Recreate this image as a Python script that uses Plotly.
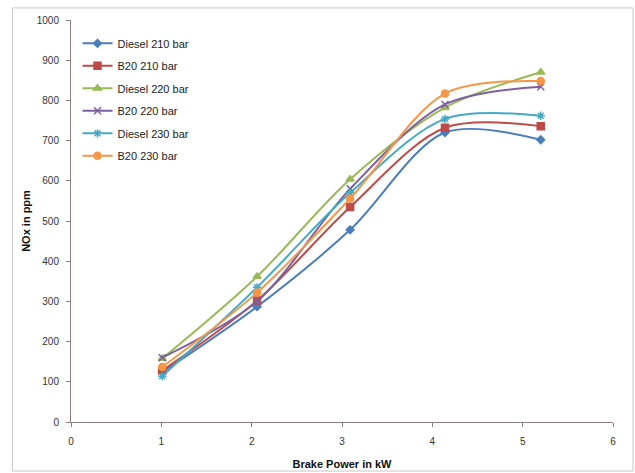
import plotly.graph_objects as go

x_power = [1.01, 2.06, 3.09, 4.14, 5.20]
series_names = ["Diesel 210 bar", "B20 210 bar", "Diesel 220 bar", "B20 220 bar", "Diesel 230 bar", "B20 230 bar"]
diesel_210 = [124, 287, 478, 720, 702]
b20_210 = [128, 302, 535, 732, 736]
diesel_220 = [158, 362, 604, 782, 870]
b20_220 = [160, 300, 580, 790, 834]
diesel_230 = [114, 335, 570, 754, 762]
b20_230 = [137, 322, 556, 817, 848]
x_ticks = [0, 1, 2, 3, 4, 5, 6]
y_ticks = [0, 100, 200, 300, 400, 500, 600, 700, 800, 900, 1000]

series_values = [diesel_210, b20_210, diesel_220, b20_220, diesel_230, b20_230]
colors = ["#4A7EBB", "#BE4B48", "#98B954", "#7D60A0", "#46AAC5", "#F79646"]
symbols = ["diamond", "square", "triangle-up", "x-thin-open", "asterisk-open", "circle"]
sizes = [6, 7, 7, 7, 7, 7]

FONT = "Liberation Sans Narrow, Arial Narrow, Liberation Sans, Arial, sans-serif"

fig = go.Figure()
for i, (name, vals, c, s, sz) in enumerate(zip(series_names, series_values, colors, symbols, sizes)):
    fig.add_trace(go.Scatter(
        x=x_power, y=vals, name=name, mode="lines+markers", legendgroup=f"g{i}",
        line=dict(color=c, width=2, shape="spline", smoothing=0.9),
        marker=dict(symbol=s, size=sz, color=c, line=dict(color=c, width=1.5)),
    ))

axis_color = "#8C7F7F"
fig.update_layout(
    width=635, height=473,
    margin=dict(l=70.5, r=22, t=20, b=50.5),
    paper_bgcolor="white", plot_bgcolor="white",
    font=dict(family=FONT, size=10, color="#333333"),
    showlegend=True,
    legend=dict(x=0.012, y=0.978, xanchor="left", yanchor="top",
                bgcolor="rgba(0,0,0,0)", font=dict(size=11, color="#222222"),
                tracegroupgap=3.5, itemwidth=30),
    xaxis=dict(range=[0, 6], tickvals=x_ticks, showgrid=False, zeroline=False,
               showline=True, linecolor=axis_color, linewidth=1, automargin=False,
               ticks="outside", ticklen=4, tickcolor=axis_color, ticklabelstandoff=6,
               title=dict(text="<b>Brake Power in kW</b>", font=dict(size=11, color="#111111"), standoff=14)),
    yaxis=dict(range=[0, 1000], tickvals=y_ticks, showgrid=False, zeroline=False,
               showline=True, linecolor=axis_color, linewidth=1, automargin=False,
               ticks="outside", ticklen=4, tickcolor=axis_color, ticklabelstandoff=5,
               title=dict(text="<b>NOx in ppm</b>", font=dict(size=11, color="#111111"), standoff=3)),
    shapes=[dict(type="rect", xref="paper", yref="paper",
                 x0=-0.108, x1=1.037, y0=-0.122, y1=1.030,
                 line=dict(color="#C8C8C8", width=1), layer="below")],
)

fig.write_html("out.html")
